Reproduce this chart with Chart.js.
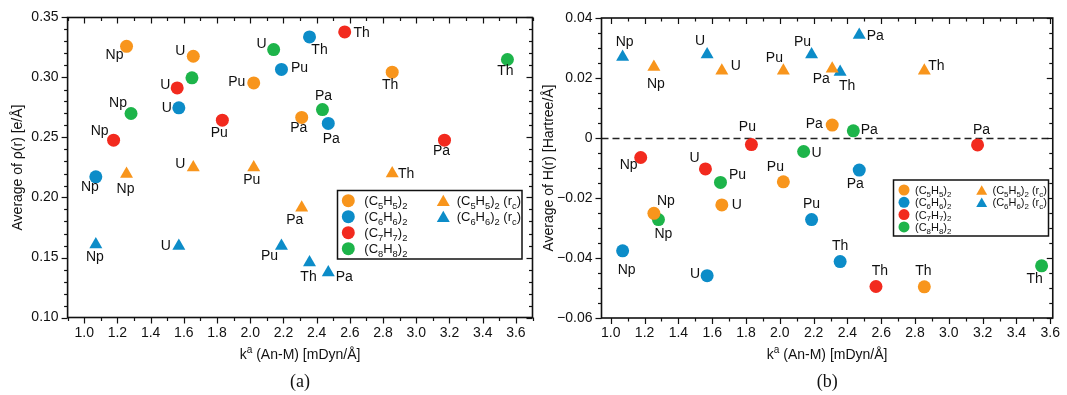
<!DOCTYPE html>
<html>
<head>
<meta charset="utf-8">
<script src="https://cdn.jsdelivr.net/npm/chart.js@4.4.1/dist/chart.umd.min.js"></script>
<style>
  html, body { margin: 0; padding: 0; background: #fff; }
  body { width: 1067px; height: 395px; position: relative; overflow: hidden; }
  .panel { position: absolute; top: 0; height: 395px; }
</style>
</head>
<body>
<div class="panel" style="left:0;width:540px"><canvas id="chartA" width="540" height="395"></canvas></div>
<div class="panel" style="left:540px;width:527px"><canvas id="chartB" width="527" height="395"></canvas></div>
<script>
        // ============= DATA =============
        const actinides = ['Np', 'U', 'Pu', 'Pa', 'Th'];
        const seriesNames = ['(C_5H_5)_2', '(C_6H_6)_2', '(C_7H_7)_2', '(C_8H_8)_2', '(C_5H_5)_2 (r_c)', '(C_6H_6)_2 (r_c)'];

        // k^a (An-M) [mDyn/Å], order Np U Pu Pa Th
        const kaC5H5 = [1.255, 1.657, 2.021, 2.310, 2.855];
        const kaC6H6 = [1.070, 1.570, 2.188, 2.470, 2.357];
        const kaC7H7 = [1.177, 1.560, 1.832, 3.170, 2.569];
        const kaC8H8 = [1.282, 2.141, 1.649, 2.435, 3.549];

        // average rho(r) [e/Å]
        const rhoC5H5 = [0.3260, 0.3177, 0.2955, 0.2667, 0.3044];
        const rhoC6H6 = [0.2172, 0.2747, 0.3067, 0.2617, 0.3338];
        const rhoC7H7 = [0.2478, 0.2913, 0.2644, 0.2478, 0.3380];
        const rhoC8H8 = [0.2700, 0.3233, 0.2997, 0.2733, 0.3150];
        const rhoC5H5rc = [0.2195, 0.2250, 0.2250, 0.1914, 0.2200];
        const rhoC6H6rc = [0.1609, 0.1595, 0.1595, 0.1376, 0.1459];

        // average H(r) [Hartree/Å]
        const hC5H5 = [-0.0251, -0.0223, -0.0146, 0.0043, -0.0496];
        const hC6H6 = [-0.0376, -0.0459, -0.0272, -0.0107, -0.0412];
        const hC7H7 = [-0.0065, -0.0103, -0.0022, -0.0023, -0.0495];
        const hC8H8 = [-0.0272, -0.0045, -0.0148, 0.0024, -0.0426];
        const hC5H5rc = [0.0237, 0.0224, 0.0224, 0.0231, 0.0224];
        const hC6H6rc = [0.0270, 0.0278, 0.0278, 0.0343, 0.0220];

        const kaTicks = [1.0, 1.2, 1.4, 1.6, 1.8, 2.0, 2.2, 2.4, 2.6, 2.8, 3.0, 3.2, 3.4, 3.6];
        const rhoTicks = [0.10, 0.15, 0.20, 0.25, 0.30, 0.35];
        const hTicks = [-0.06, -0.04, -0.02, 0, 0.02, 0.04];

        // ============= STYLE =============
        const FONT = "'Liberation Sans', Arial, Helvetica, sans-serif";
        const COLORS = ['#F8951C', '#0C8CC8', '#F22A1E', '#1DB44A', '#F8951C', '#0C8CC8'];
        const STYLES = ['circle', 'circle', 'circle', 'circle', 'triangle', 'triangle'];
        const RADII = [6.5, 6.5, 6.5, 6.5, 7.5, 7.5];

        // label offsets [dx, dy] from the marker, order Np U Pu Pa Th (null = no label)
        const labelOffsA = [
            [[-12, 9], [-13, -5], [-17, -1], [-3, 11], [-2, 13]],
            [[-6, 10], [-12, 0], [18, -1], [3, 16], [10, 13]],
            [[-14, -9], [-12, -3], [-3, 13], [-3, 11], [17, 1]],
            [[-13, -10], [-12, -5], null, [1, -13], [-2, 12]],
            [[-1, 15], [-13, -3], [-2, 13], [-7, 12], [14, 1]],
            [[-1, 13], [-13, 0], [-12, 10], [16, 5], [-1, 15]]
        ];
        const labelOffsB = [
            [[12, -12], [15, 0], [-8, -15], [-18, -1], [-1, -16]],
            [[4, 19], [-12, -2], [0, -15], [-4, 14], [0, -15]],
            [[-12, 8], [-11, -11], [-4, -17], [4, -15], [4, -15]],
            [[5, 15], [13, 2], [17, -7], [16, -1], [-7, 13]],
            [[2, 17], [14, -5], [-9, -13], [-11, 10], [12, -5]],
            [[2, -15], [-7, -13], [-9, -12], [16, 1], [7, 14]]
        ];

        // ============= HELPERS =============
        // text with _x subscripts and ^x superscripts
        function richParts(text) {
            const parts = [];
            for (let i = 0; i < text.length; i++) {
                const c = text[i];
                if ((c === '_' || c === '^') && i + 1 < text.length) {
                    parts.push({ t: text[i + 1], mode: c === '_' ? 'sub' : 'sup' });
                    i++;
                } else {
                    parts.push({ t: c, mode: 'n' });
                }
            }
            return parts;
        }

        function drawRich(ctx, text, x, y, size, align) {
            const parts = richParts(text);
            const small = size * 0.72;
            const fontFor = p => (p.mode === 'n' ? size : small) + 'px ' + FONT;
            let w = 0;
            parts.forEach(p => { ctx.font = fontFor(p); p.w = ctx.measureText(p.t).width; w += p.w; });
            let cx = align === 'center' ? x - w / 2 : x;
            ctx.textAlign = 'left';
            ctx.textBaseline = 'alphabetic';
            const base = y + size * 0.36;
            parts.forEach(p => {
                ctx.font = fontFor(p);
                let dy = 0;
                if (p.mode === 'sub') dy = size * 0.25;
                if (p.mode === 'sup') dy = -size * 0.42;
                ctx.fillText(p.t, cx, base + dy);
                cx += p.w;
            });
        }

        function drawMarker(ctx, style, x, y, r) {
            ctx.beginPath();
            if (style === 'triangle') {
                let rad = 0;
                ctx.moveTo(x + Math.sin(rad) * r, y - Math.cos(rad) * r);
                rad += 2 * Math.PI / 3;
                ctx.lineTo(x + Math.sin(rad) * r, y - Math.cos(rad) * r);
                rad += 2 * Math.PI / 3;
                ctx.lineTo(x + Math.sin(rad) * r, y - Math.cos(rad) * r);
                ctx.closePath();
            } else {
                ctx.arc(x, y, r, 0, Math.PI * 2);
            }
            ctx.fill();
        }

        function buildDatasets(xsList, ysList, offs) {
            return xsList.map((xs, i) => ({
                label: seriesNames[i],
                data: xs.map((x, j) => ({ x: x, y: ysList[i][j] })),
                pointStyle: STYLES[i],
                backgroundColor: COLORS[i],
                borderWidth: 0,
                pointRadius: RADII[i],
                pointHoverRadius: RADII[i],
                labelNames: actinides,
                labelOffsets: offs[i]
            }));
        }

        // ============= PLUGINS =============
        const pointLabels = {
            id: 'pointLabels',
            afterDatasetsDraw(chart) {
                const ctx = chart.ctx;
                ctx.save();
                ctx.fillStyle = '#111';
                ctx.font = '14px ' + FONT;
                ctx.textAlign = 'center';
                ctx.textBaseline = 'middle';
                chart.data.datasets.forEach((ds, i) => {
                    const meta = chart.getDatasetMeta(i);
                    meta.data.forEach((pt, j) => {
                        const o = ds.labelOffsets[j];
                        if (!o) return;
                        ctx.fillText(ds.labelNames[j], pt.x + o[0], pt.y + o[1]);
                    });
                });
                ctx.restore();
            }
        };

        const frameTicks = {
            id: 'frameTicks',
            beforeDatasetsDraw(chart, args, o) {
                if (!o.zeroLine) return;
                const { ctx, chartArea: a, scales: { y } } = chart;
                const py = Math.round(y.getPixelForValue(0)) + 0.5;
                ctx.save();
                ctx.strokeStyle = '#222';
                ctx.lineWidth = 1.3;
                ctx.setLineDash([7, 4]);
                ctx.beginPath();
                ctx.moveTo(a.left, py);
                ctx.lineTo(a.right, py);
                ctx.stroke();
                ctx.restore();
            },
            afterDraw(chart, args, o) {
                const { ctx, chartArea: a, scales: { x, y } } = chart;
                ctx.save();
                ctx.strokeStyle = '#111';
                ctx.lineWidth = 1.2;
                const seg = (x1, y1, x2, y2) => { ctx.beginPath(); ctx.moveTo(x1, y1); ctx.lineTo(x2, y2); ctx.stroke(); };
                const each = (min, max, step, major, fn) => {
                    for (let i = Math.ceil(min / step - 1e-6); i * step <= max + 1e-9; i++) {
                        const v = i * step;
                        const r = v / major;
                        fn(v, Math.abs(r - Math.round(r)) < 1e-6);
                    }
                };
                each(x.min, x.max, o.xMinor, o.xMajor, (v, isMaj) => {
                    const px = Math.round(x.getPixelForValue(v)) + 0.5;
                    const len = isMaj ? 6 : 3.5;
                    seg(px, a.bottom, px, a.bottom + len);
                    seg(px, a.top, px, a.top + len);
                });
                each(y.min, y.max, o.yMinor, o.yMajor, (v, isMaj) => {
                    const py = Math.round(y.getPixelForValue(v)) + 0.5;
                    const len = isMaj ? 6 : 3.5;
                    seg(a.left - len, py, a.left, py);
                    seg(a.right - len, py, a.right, py);
                });
                ctx.lineWidth = 1.6;
                ctx.strokeRect(a.left, a.top, a.right - a.left, a.bottom - a.top);

                // axis titles and panel tag
                ctx.fillStyle = '#111';
                const cx = (a.left + a.right) / 2;
                drawRich(ctx, o.xTitle, cx, o.xTitleY, 14, 'center');
                ctx.save();
                ctx.translate(o.yTitleX, (a.top + a.bottom) / 2);
                ctx.rotate(-Math.PI / 2);
                ctx.font = '14px ' + FONT;
                ctx.textAlign = 'center';
                ctx.textBaseline = 'middle';
                ctx.fillText(o.yTitle, 0, 0);
                ctx.restore();
                ctx.font = "18px 'Liberation Serif', 'DejaVu Serif', serif";
                ctx.textAlign = 'center';
                ctx.textBaseline = 'middle';
                ctx.fillText(o.tag, cx, o.tagY);
                ctx.restore();
            }
        };

        const legendBox = {
            id: 'legendBox',
            afterDraw(chart, args, o) {
                const ctx = chart.ctx;
                ctx.save();
                ctx.fillStyle = '#fff';
                ctx.fillRect(o.box[0], o.box[1], o.box[2], o.box[3]);
                ctx.strokeStyle = '#111';
                ctx.lineWidth = 1.5;
                ctx.strokeRect(o.box[0], o.box[1], o.box[2], o.box[3]);
                chart.data.datasets.forEach((ds, i) => {
                    const col = i < 4 ? 0 : 1;
                    const row = i < 4 ? i : i - 4;
                    const my = o.rowY + row * o.rowH;
                    ctx.fillStyle = ds.backgroundColor;
                    drawMarker(ctx, ds.pointStyle, o.markX[col], my + (ds.pointStyle === 'triangle' ? 1.5 : 0),
                        ds.pointStyle === 'triangle' ? o.markR * 1.15 : o.markR);
                    ctx.fillStyle = '#111';
                    drawRich(ctx, ds.label, o.textX[col], my, o.size, 'left');
                });
                ctx.restore();
            }
        };

        // ============= CHARTS =============
        function makeChart(id, cfg) {
            return new Chart(document.getElementById(id), {
                type: 'scatter',
                data: { datasets: cfg.datasets },
                plugins: [frameTicks, pointLabels, legendBox],
                options: {
                    responsive: false,
                    animation: false,
                    devicePixelRatio: 1,
                    layout: { padding: cfg.padding },
                    plugins: {
                        legend: { display: false },
                        tooltip: { enabled: false },
                        frameTicks: cfg.frame,
                        legendBox: cfg.legend
                    },
                    scales: {
                        x: {
                            type: 'linear',
                            min: cfg.xMin, max: cfg.xMax,
                            afterBuildTicks: s => { s.ticks = kaTicks.map(v => ({ value: v })); },
                            afterFit: s => { s.height = cfg.xHeight; },
                            grid: { display: false, drawTicks: false },
                            border: { display: false },
                            ticks: {
                                padding: 7,
                                color: '#111',
                                font: { family: FONT, size: 14 },
                                maxRotation: 0,
                                autoSkip: false,
                                callback: v => v.toFixed(1)
                            }
                        },
                        y: {
                            type: 'linear',
                            min: cfg.yMin, max: cfg.yMax,
                            afterBuildTicks: s => { s.ticks = cfg.yTicks.map(v => ({ value: v })); },
                            afterFit: s => { s.width = cfg.yWidth; },
                            grid: { display: false, drawTicks: false },
                            border: { display: false },
                            ticks: {
                                padding: 9,
                                color: '#111',
                                font: { family: FONT, size: 14 },
                                autoSkip: false,
                                callback: cfg.yFmt
                            }
                        }
                    }
                }
            });
        }

        const xsAll = [kaC5H5, kaC6H6, kaC7H7, kaC8H8, kaC5H5, kaC6H6];

        makeChart('chartA', {
            datasets: buildDatasets(xsAll, [rhoC5H5, rhoC6H6, rhoC7H7, rhoC8H8, rhoC5H5rc, rhoC6H6rc], labelOffsA),
            padding: { top: 17.5, right: 5.7, bottom: 0, left: 0 },
            xMin: 0.9, xMax: 3.7, xHeight: 77.5,
            yMin: 0.10, yMax: 0.35, yWidth: 67.6, yTicks: rhoTicks,
            yFmt: v => v.toFixed(2),
            frame: { xMinor: 0.1, xMajor: 0.2, yMinor: 0.01, yMajor: 0.05, zeroLine: false,
                     xTitle: 'k^a (An-M) [mDyn/Å]', xTitleY: 354, yTitle: 'Average of ρ(r) [e/Å]', yTitleX: 18,
                     tag: '(a)', tagY: 382 },
            legend: { box: [337.5, 190.5, 184.5, 68.5], rowY: 200.7, rowH: 16, markX: [348.3, 443.3],
                      textX: [364.3, 456.7], markR: 6.5, size: 13 }
        });

        makeChart('chartB', {
            datasets: buildDatasets(xsAll, [hC5H5, hC6H6, hC7H7, hC8H8, hC5H5rc, hC6H6rc], labelOffsB),
            padding: { top: 18, right: 8, bottom: 0, left: 0 },
            xMin: 0.945, xMax: 3.615, xHeight: 77,
            yMin: -0.06, yMax: 0.04, yWidth: 61.5, yTicks: hTicks,
            yFmt: v => Math.abs(v) < 1e-9 ? '0' : (v < 0 ? '\u2212' : '') + Math.abs(v).toFixed(2),
            frame: { xMinor: 0.1, xMajor: 0.2, yMinor: 0.005, yMajor: 0.02, zeroLine: true,
                     xTitle: 'k^a (An-M) [mDyn/Å]', xTitleY: 354, yTitle: 'Average of H(r) [Hartree/Å]', yTitleX: 9,
                     tag: '(b)', tagY: 382 },
            legend: { box: [353.5, 180, 155, 56], rowY: 190, rowH: 12.3, markX: [364, 441.7],
                      textX: [375, 452.5], markR: 5.5, size: 11 }
        });
</script>
</body>
</html>
